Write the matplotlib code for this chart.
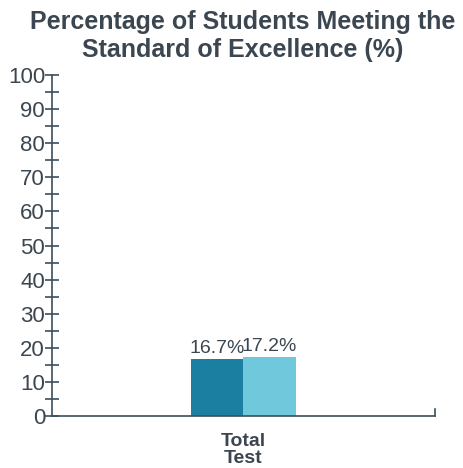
import matplotlib
matplotlib.use("Agg")
import matplotlib.pyplot as plt
from matplotlib.ticker import MultipleLocator

plt.rcParams['font.family'] = ['Liberation Sans', 'DejaVu Sans']

# dados
categorias = ["Total\nTest"]
valores = [16.7, 17.2]
rotulos = ["16.7%", "17.2%"]
cores = ["#1a7fa0", "#70c8dc"]
cor_texto = "#3b4650"

fig = plt.figure(figsize=(4.63, 4.68), dpi=100)
ax = fig.add_axes([0.1123, 0.111, 0.8272, 0.7287])

largura = 0.272
deslocamentos = [-largura / 2, largura / 2]
for v, r, c, d in zip(valores, rotulos, cores, deslocamentos):
    ax.bar(d, v, width=largura, color=c)
    ax.text(d, v + 0.6, r, ha="center", va="bottom", fontsize=14, color=cor_texto)

ax.set_xlim(-1, 1)
ax.set_ylim(0, 100)
ax.set_xticks([0])
ax.set_xticklabels(categorias, fontsize=14, fontweight="bold", color=cor_texto, linespacing=1.05)
ax.tick_params(axis="x", length=0, pad=12)

ax.yaxis.set_major_locator(MultipleLocator(10))
ax.yaxis.set_minor_locator(MultipleLocator(5))
ax.tick_params(axis="y", which="both", direction="inout", length=10, width=1.2,
               color="#3b4f5c", labelsize=16, labelcolor=cor_texto, pad=0)

ax.spines["top"].set_visible(False)
ax.spines["right"].set_bounds(0, 2)
for s in ["left", "bottom", "right"]:
    ax.spines[s].set_color("#3b4f5c")
    ax.spines[s].set_linewidth(1.2)

fig.text(0.525, 0.978, "Percentage of Students Meeting the\nStandard of Excellence (%)",
         ha="center", va="top", fontsize=18, fontweight="bold", color=cor_texto, linespacing=1.2)

fig.savefig("out.png", dpi=100)
